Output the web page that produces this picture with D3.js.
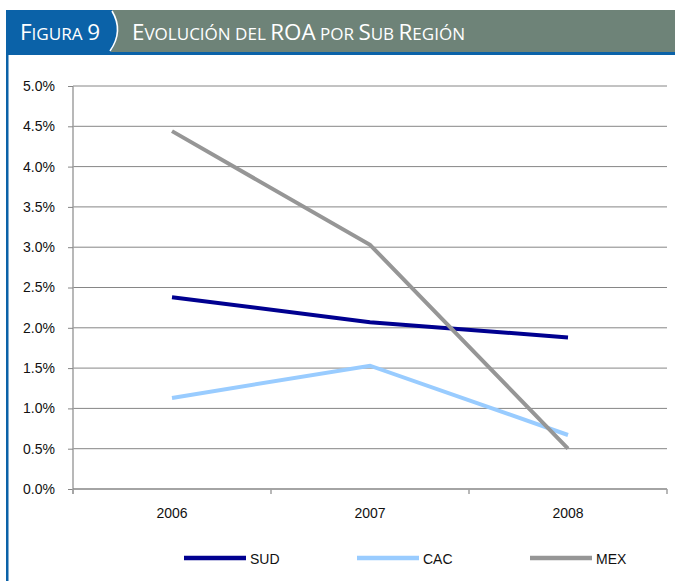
<!DOCTYPE html>
<html><head><meta charset="utf-8">
<script src="https://cdn.jsdelivr.net/npm/d3@7/dist/d3.min.js"></script>
<style>body{margin:0;background:#fff}svg{display:block}</style>
</head><body>
<svg id="c" width="675" height="581"></svg>
<script>
const years = ["2006","2007","2008"];
const sud = [2.38, 2.07, 1.88];
const cac = [1.13, 1.53, 0.67];
const mex = [4.44, 3.03, 0.50];
const yTicks = [0,0.5,1,1.5,2,2.5,3,3.5,4,4.5,5];
const seriesNames = ["SUD","CAC","MEX"];
const seriesColors = ["#000090","#99ccff","#969696"];
const seriesData = [sud, cac, mex];

const svg = d3.select("#c");
const font = "'Liberation Sans', Arial, sans-serif";

// header
svg.append("rect").attr("x",6).attr("y",10).attr("width",669).attr("height",43).attr("fill","#6e8378");
svg.append("path").attr("d","M6,10 L112,10 Q124,31 110,53 L6,53 Z").attr("fill","#0b62a8");
svg.append("path").attr("d","M112,11 Q124,31 110,51").attr("fill","none").attr("stroke","#fff").attr("stroke-width",1.6);
svg.append("rect").attr("x",6).attr("y",52).attr("width",669).attr("height",3).attr("fill","#0b62a8");
svg.append("rect").attr("x",6).attr("y",52).attr("width",2.5).attr("height",529).attr("fill","#0b62a8");

function smallCaps(x, y, parts, w){
  const t = svg.append("text").attr("x",x).attr("y",y).attr("fill","#fff")
    .style("font-family","'Open Sans','Liberation Sans',sans-serif");
  parts.forEach(p=>t.append("tspan").style("font-size",p[1]+"px").text(p[0]));
  if (w) t.attr("textLength",w).attr("lengthAdjust","spacingAndGlyphs");
  return t;
}
smallCaps(20,40,[["F",21],["IGURA ",16],["9",21]],80);
smallCaps(132,40,[["E",21],["VOLUCIÓN DEL ",16],["ROA",21],[" POR ",16],["S",21],["UB ",16],["R",21],["EGIÓN",16]],333);

// chart
const x0 = 73, x1 = 667, yTop = 86, yBot = 489;
const xb = d3.scaleBand().domain(years).range([x0,x1]);
const y = d3.scaleLinear().domain([0,5]).range([yBot,yTop]);

const grid = svg.append("g");
grid.selectAll("line").data(yTicks.filter(d=>d>0)).join("line")
  .attr("x1",x0).attr("x2",x1).attr("y1",d=>y(d)).attr("y2",d=>y(d))
  .attr("stroke","#868686").attr("stroke-width",1);

const ya = svg.append("g").attr("transform",`translate(${x0},0)`)
  .call(d3.axisLeft(y).tickValues(yTicks).tickFormat(d=>d.toFixed(1)+"%").tickSize(5).tickPadding(13));
ya.select(".domain").attr("stroke","#a0a0a0").attr("stroke-width",1.5).attr("d",`M0,${yTop}V${yBot+5}`);
ya.selectAll(".tick line").attr("stroke","#868686");
ya.selectAll("text").style("font-family",font).style("font-size","14px").attr("fill","#111");

const xa = svg.append("g").attr("transform",`translate(0,${yBot})`)
  .call(d3.axisBottom(xb).tickSize(0).tickPadding(19));
xa.select(".domain").attr("stroke","#868686").attr("stroke-width",1.5).attr("d",`M${x0},0H${x1}`);
xa.selectAll("text").style("font-family",font).style("font-size","14px").attr("fill","#111");
const seps = [x0].concat(years.map(d=>xb(d)+xb.bandwidth()));
svg.append("g").selectAll("line").data(seps).join("line")
  .attr("x1",d=>d).attr("x2",d=>d).attr("y1",yBot).attr("y2",yBot+5)
  .attr("stroke","#a0a0a0").attr("stroke-width",1.5);

const line = d3.line().x((d,i)=>xb(years[i])+xb.bandwidth()/2).y(d=>y(d));
seriesData.forEach((s,k)=>{
  svg.append("path").attr("d",line(s)).attr("fill","none")
    .attr("stroke",seriesColors[k]).attr("stroke-width",4);
});

// legend
const legX = [184,357,530];
seriesNames.forEach((n,k)=>{
  svg.append("line").attr("x1",legX[k]).attr("x2",legX[k]+62).attr("y1",558).attr("y2",558)
    .attr("stroke",seriesColors[k]).attr("stroke-width",4.5);
  svg.append("text").attr("x",legX[k]+66).attr("y",564).text(n)
    .style("font-family",font).style("font-size","14px").attr("fill","#111");
});
</script>
</body></html>
